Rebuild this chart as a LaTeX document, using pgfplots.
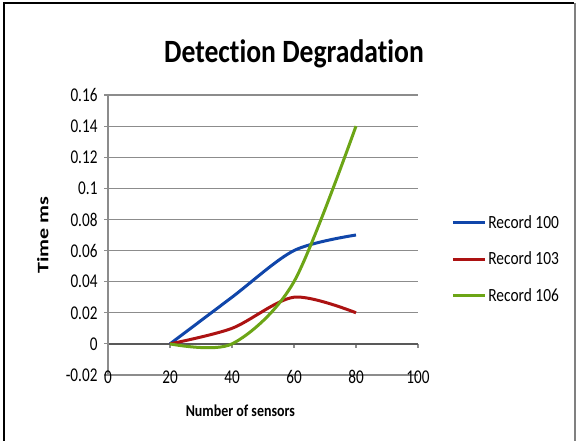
\documentclass[border=0pt]{standalone}
\usepackage{fontspec}
\setmainfont{Carlito}[Ligatures=CommonOff]
\usepackage{graphicx}
\usepackage{pgfplots}
\pgfplotsset{compat=1.18}
\definecolor{cblue}{RGB}{16,70,170}
\definecolor{cred}{RGB}{172,18,18}
\definecolor{cgreen}{RGB}{108,165,22}
\definecolor{gridc}{RGB}{140,140,140}
\newcommand\sx[1]{\scalebox{0.78}[1]{#1}}
\newcommand\sleg[1]{\scalebox{0.83}[1]{#1}}
\begin{document}
\begin{tikzpicture}[x=1pt,y=1pt]
\path[use as bounding box] (0,0) rectangle (576,441);
\draw[black,line width=2.2pt] (4,0) -- (4,438) -- (574,438);
\draw[gray,line width=1.5pt] (575,438) -- (575,0);
\begin{axis}[
  at={(108pt,66pt)}, anchor=south west,
  width=310pt, height=280pt, scale only axis,
  xmin=0, xmax=100, ymin=-0.02, ymax=0.16,
  axis x line=middle, axis y line=left,
  hide obscured x ticks=false, hide obscured y ticks=false,
  x axis line style={-, draw=black!65, line width=1.8pt},
  y axis line style={-, draw=gridc, line width=1.2pt},
  xtick={0,20,40,60,80,100},
  xticklabels={\sx{0},\sx{20},\sx{40},\sx{60},\sx{80},\sx{100}},
  ytick={-0.02,0,0.02,0.04,0.06,0.08,0.1,0.12,0.14,0.16},
  yticklabels={\sx{-0.02},\sx{0},\sx{0.02},\sx{0.04},\sx{0.06},\sx{0.08},\sx{0.1},\sx{0.12},\sx{0.14},\sx{0.16}},
  ymajorgrids, grid style={draw=gridc, line width=1.2pt},
  tick style={draw=gridc, line width=1.2pt},
  tick align=outside, major tick length=4pt,
  /pgf/number format/assume math mode=true,
  ticklabel style={font=\fontsize{19.5}{20}\selectfont},
  xticklabel style={anchor=center, yshift=-29pt},
  yticklabel style={xshift=-3pt},
  title={\scalebox{0.85}[1]{Detection Degradation}},
  title style={font=\fontsize{32.5}{36}\selectfont\bfseries, at={(axis description cs:0.6,1.125)}, anchor=center},
  xlabel={\scalebox{0.84}[1]{Number of sensors}},
  xlabel style={font=\fontsize{16.6}{20}\selectfont\bfseries, at={(axis description cs:0.427,-0.128)}, anchor=center},
  ylabel={\scalebox{1.38}[1]{Time ms}},
  ylabel style={font=\fontsize{16}{20}\selectfont\bfseries, at={(axis description cs:-0.21,0.5)}, anchor=center},
  legend style={draw=none, fill=none, at={(axis description cs:1.107,0.414)}, anchor=west,
    font=\fontsize{18.6}{20}\selectfont, row sep=18pt, inner sep=0pt, cells={anchor=west}},
  legend image code/.code={\draw[#1, line width=3pt] (0pt,0pt) -- (32pt,0pt);},
]
\addplot[cblue, line width=3pt, smooth] coordinates {(20,0) (40,0.03) (60,0.06) (80,0.07)};
\addlegendentry{\sleg{Record 100}}
\addplot[cred, line width=3pt, smooth] coordinates {(20,0) (40,0.01) (60,0.03) (80,0.02)};
\addlegendentry{\sleg{Record 103}}
\addplot[cgreen, line width=3pt, smooth] coordinates {(20,0) (40,0) (60,0.04) (80,0.14)};
\addlegendentry{\sleg{Record 106}}
\end{axis}
\end{tikzpicture}
\end{document}
